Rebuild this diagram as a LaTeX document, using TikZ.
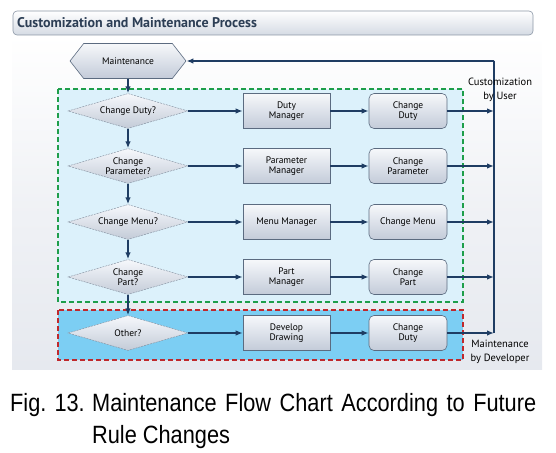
\documentclass[tikz,border=0pt]{standalone}
\usepackage{fontspec}
\setmainfont{Liberation Sans}
\newfontfamily\chartfont{PT Sans}
\newfontfamily\capfont[FakeStretch=0.87]{Liberation Sans}
\usetikzlibrary{shapes.geometric,shapes.symbols,arrows.meta,calc,positioning}
\definecolor{navy}{HTML}{1F3D63}
\definecolor{boxedge}{HTML}{5B6B80}
\definecolor{boxtop}{HTML}{F6F8FB}
\definecolor{boxbot}{HTML}{C3CBD8}
\definecolor{panel}{HTML}{E6E9EF}
\definecolor{usrfill}{HTML}{DCF1FB}
\definecolor{devfill}{HTML}{7CCEF3}
\definecolor{usrline}{HTML}{1E9E4A}
\definecolor{devline}{HTML}{C0282C}
\definecolor{titletext}{HTML}{2C3E55}
\tikzset{
	flow chart/.style={
		x=1pt, y=-1pt,
		font=\chartfont\fontsize{9.5}{10.5}\selectfont,
		every node/.style={align=center, inner sep=1pt},
		ar/.style={draw=navy, line width=1.6pt, -{Latex[length=7pt,width=5.5pt]}},
		bus/.style={draw=navy, line width=1.6pt}
		},
	shade box/.style={draw=boxedge, line width=.6pt, top color=boxtop, bottom color=boxbot},
	decision/.style={shade box, diamond, aspect=3.4, minimum width=120pt, minimum height=35pt,
		inner sep=0pt, draw=boxedge!80, line width=.4pt, dash pattern=on 2pt off 1pt},
	startbox/.style={shade box, signal, signal to=west and east, signal pointer angle=104,
		minimum width=116pt, minimum height=35pt, inner sep=0pt},
	managerbox/.style={shade box, rectangle, minimum width=87pt, minimum height=35pt,
		prefix after command={\pgfextra{\let\fixname\tikzlastnode}},
		append after command={\pgfextra{\draw[boxedge, line width=.6pt]
			($(\fixname.north west)+(11,0)$) -- ($(\fixname.south west)+(11,0)$)
			($(\fixname.north east)+(-11,0)$) -- ($(\fixname.south east)+(-11,0)$);}}},
	changebox/.style={shade box, rectangle, rounded corners=5pt, minimum width=78pt, minimum height=35pt},
	group/.style={line width=1.3pt, dash pattern=on 5pt off 3pt},
	side label/.style={font=\chartfont\fontsize{10.5}{13.5}\selectfont}
}
\begin{document}
\begin{tikzpicture}[flow chart]
   \useasboundingbox (0,0) rectangle (556,452);
   % panel and title bar
   \fill[top color=white, bottom color=panel, middle color=panel!60] (12,35) rectangle (542,369);
   \draw[rounded corners=4pt, draw=boxedge!70, line width=.6pt, top color=white, bottom color=boxbot!70]
      (13,11) rectangle (533,35);
   \node[anchor=west, text=titletext, font=\chartfont\bfseries\fontsize{14}{16}\selectfont] (title) at (16,23)
      {Customization and Maintenance Process};
   % groups
   \filldraw[group, draw=usrline, fill=usrfill] (58,89) rectangle (463,302);
   \filldraw[group, draw=devline, fill=devfill] (58,310) rectangle (463,360);
   \node[startbox] (maint) at (128,61) {Maintenance};
   \coordinate (bustop) at (494,61);
   \foreach \y/\q/\m/\c/\n in {111/{Change Duty?}/{Duty\\Manager}/{Change\\Duty}/1,
         166/{Change\\Parameter?}/{Parameter\\Manager}/{Change\\Parameter}/2,
         222/{Change Menu?}/{Menu Manager}/{Change Menu}/3,
         277/{Change\\Part?}/{Part\\Manager}/{Change\\Part}/4,
         333/{Other?}/{Develop\\Drawing}/{Change\\Duty}/5} {
      \node[decision] (q\n) at (128,\y) {\q};
      \node[managerbox] (m\n) at (286.5,\y) {\m};
      \node[changebox] (c\n) at (408,\y) {\c};
      \coordinate (b\n) at (494,\y);
      \draw[ar] (q\n) -- (m\n);
      \draw[ar] (m\n) -- (c\n);
      \draw[ar] (c\n) -- (b\n);
   }
   \draw[ar] (maint) -- (q1);
   \foreach \n in {2,...,5} {
      \pgfmathtruncatemacro{\p}{\n-1}
      \draw[ar] (q\p) -- (q\n);
   }
   \draw[bus] (b5) -- (bustop);
   \draw[ar] (bustop) -- (maint);
   \node[side label] (usr) at (500,90) {Customization\\by User};
   \node[side label] (dev) at (500,352) {Maintenance\\by Developer};
   % caption
   \node[anchor=base west, inner sep=0pt, font=\capfont\fontsize{25}{32}\selectfont] (fig) at (10,411) {Fig. 13.};
   \node[anchor=base west, inner sep=0pt, text width=444pt, align=justify, font=\capfont\fontsize{25}{32}\selectfont]
      (cap) at (92,411) {Maintenance Flow Chart According to Future Rule Changes};
\end{tikzpicture}
\end{document}
